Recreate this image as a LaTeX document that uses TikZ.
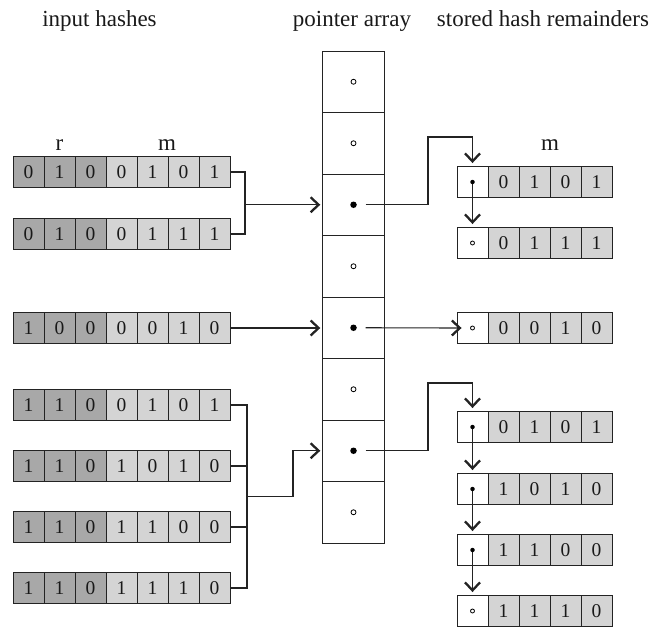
\documentclass[tikz,border=0pt]{standalone}
\usepackage{fontspec}
\setmainfont{Liberation Serif}
\usetikzlibrary{arrows.meta}
\definecolor{rcol}{RGB}{168,168,168}
\definecolor{mcol}{RGB}{212,212,212}
\definecolor{linec}{RGB}{35,35,35}
\begin{document}
\begin{tikzpicture}[x=1pt,y=-1pt,
  cell/.style={draw=linec, line width=0.9pt, minimum width=31pt, minimum height=31pt,
    inner sep=0pt, font=\fontsize{19.5}{19.5}\selectfont, text=black!90},
  slot/.style={draw=linec, line width=0.9pt, minimum width=61.5pt, minimum height=61.5pt, inner sep=0pt},
  wire/.style={draw=linec, line width=1.1pt},
  arr/.style={wire, -{Straight Barb[length=8pt,width=15pt,line width=2.3pt]}},
  title/.style={font=\fontsize{23}{23}\selectfont, anchor=base, inner sep=0pt, text=black!90},
  opendot/.style={circle, draw=black, line width=0.8pt, inner sep=0pt, minimum size=#1},
  fulldot/.style={circle, fill=black, inner sep=0pt, minimum size=#1}]
\useasboundingbox (0,0) rectangle (652,627);

% column titles
\node[title] (tin)  at (99.5,26) {input hashes};
\node[title] (tptr) at (352,26)  {pointer array};
\node[title] (tsto) at (543,26)  {stored hash remainders};
\node[title] (lr)  at (59.5,150) {r};
\node[title] (lm)  at (167,150)  {m};
\node[title] (lsm) at (550,150)  {m};

% input hashes: 3 bits r (dark) + 4 bits m (light)
\foreach \nm/\yy/\bits in {in1/172/{0,1,0,0,1,0,1}, in2/234/{0,1,0,0,1,1,1},
    in3/328/{1,0,0,0,0,1,0}, in4/405/{1,1,0,0,1,0,1}, in5/466/{1,1,0,1,0,1,0},
    in6/527/{1,1,0,1,1,0,0}, in7/588/{1,1,0,1,1,1,0}}{
  \foreach \b [count=\k] in \bits {
    \ifnum\k<4 \def\fc{rcol}\else\def\fc{mcol}\fi
    \node[cell, fill=\fc] (\nm-\k) at ({13+31*(\k-0.5)}, \yy) {\b};
  }
}

% pointer array
\foreach \j in {1,...,8}{
  \node[slot] (arr\j) at (353.5, {51+61.5*(\j-0.5)}) {};
}
\foreach \j in {1,2,4,6,8}{
  \node[opendot=5pt] (ad\j) at (arr\j.center) {};
}
\foreach \j in {3,5,7}{
  \node[fulldot=6.5pt] (ad\j) at (arr\j.center) {};
}

% stored hash remainders: pointer cell + 4 bits m
\foreach \nm/\yy/\bits in {s1/182/{0,1,0,1}, s2/243/{0,1,1,1}, s3/328/{0,0,1,0},
    s4/427/{0,1,0,1}, s5/489/{1,0,1,0}, s6/550/{1,1,0,0}, s7/611/{1,1,1,0}}{
  \node[cell, fill=white] (\nm p) at (472.5, \yy) {};
  \foreach \b [count=\k] in \bits {
    \node[cell, fill=mcol] (\nm-\k) at ({488+31*(\k-0.5)}, \yy) {\b};
  }
}

% hashes into the pointer array
\coordinate (j1) at (245, 204.75);
\draw[wire] (in1-7.east) -| (j1) |- (in2-7.east);
\draw[arr] (j1) -- ([xshift=-2pt]arr3.west);

\draw[arr] (in3-7.east) -- ([xshift=-2pt]in3-7.east -| arr5.west);

\coordinate (j2) at (247, 496.5);
\coordinate (k2) at (293, 496.5);
\draw[wire] (in4-7.east) -| (j2) |- (in7-7.east);
\draw[wire] (in5-7.east) -- (in5-7.east -| j2);
\draw[wire] (in6-7.east) -- (in6-7.east -| j2);
\draw[arr] (j2) -- (k2) |- ([xshift=-2pt]arr7.west);

% pointers into the stored lists
\coordinate (b1) at (428, 137);
\coordinate (b2) at (428, 383);
\draw[arr] ([xshift=12pt]arr3.center) -| (b1) -| ([yshift=3pt]s1p.north);
\draw[arr] ([xshift=12pt]arr5.center) -- ([xshift=5pt]s3p.west);
\draw[arr] ([xshift=12pt]arr7.center) -| (b2) -| ([yshift=3pt]s4p.north);

% chained entries
\draw[arr] (s1p.center) -- ([yshift=3pt]s2p.north);
\draw[arr] (s4p.center) -- ([yshift=3pt]s5p.north);
\draw[arr] (s5p.center) -- ([yshift=3pt]s6p.north);
\draw[arr] (s6p.center) -- ([yshift=3pt]s7p.north);

% markers in the stored pointer cells
\foreach \nm in {s1,s4,s5,s6}{
  \node[fulldot=4.5pt] (\nm d) at (\nm p.center) {};
}
\foreach \nm in {s2,s3,s7}{
  \node[opendot=4pt] (\nm d) at (\nm p.center) {};
}
\end{tikzpicture}
\end{document}
